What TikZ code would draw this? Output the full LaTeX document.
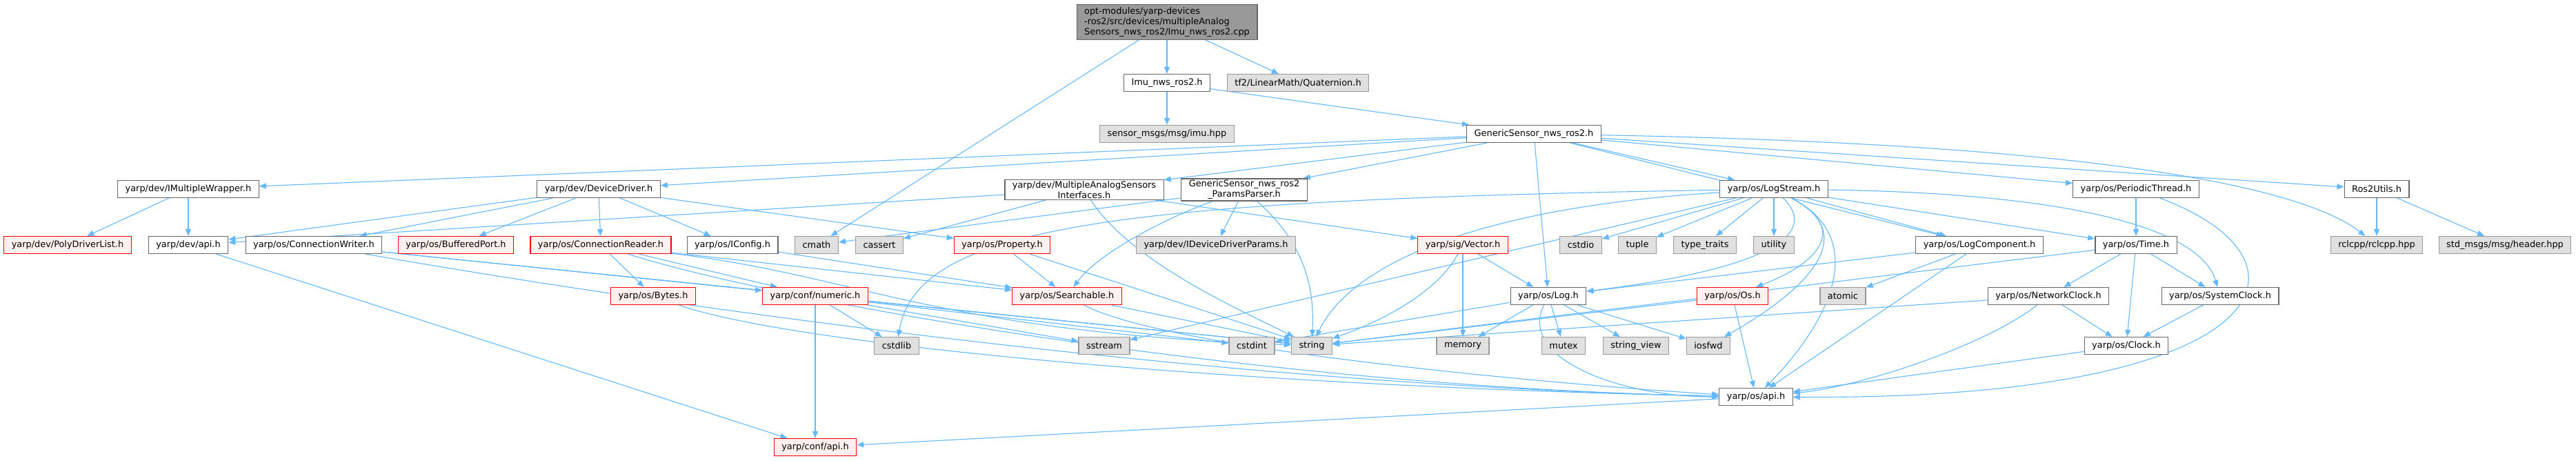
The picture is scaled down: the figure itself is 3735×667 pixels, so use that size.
\documentclass[tikz,border=0pt]{standalone}
\usepackage{fontspec}
\setmainfont{DejaVu Sans}
\usetikzlibrary{arrows.meta}
\pgfdeclarelayer{bg}
\pgfsetlayers{bg,main}
\definecolor{edgeblue}{HTML}{63B8FF}
\definecolor{sysfill}{HTML}{E0E0E0}
\definecolor{redfill}{HTML}{FFF0F0}
\definecolor{rootfill}{HTML}{999999}
\definecolor{boxline}{HTML}{666666}
\definecolor{sysline}{HTML}{999999}
\begin{document}
\begin{tikzpicture}[x=1pt,y=-1pt,
  filebox/.style={draw=boxline, fill=white, line width=1.2pt, rectangle, minimum height=25pt, inner xsep=11pt, inner ysep=2pt, font=\fontsize{12.9}{15}\selectfont, align=center},
  sysbox/.style={filebox, draw=sysline, fill=sysfill},
  redbox/.style={filebox, draw=red, fill=redfill},
  rootbox/.style={filebox, fill=rootfill, align=left, inner ysep=4pt},
  dep/.style={draw=edgeblue, line width=1.1pt, -{Triangle[length=10pt,width=8pt]}}]
\useasboundingbox (0,0) rectangle (3735,667);
\node[rootbox] (root) at (1692,32) {opt-modules/yarp-devices\\-ros2/src/devices/multipleAnalog\\Sensors\_nws\_ros2/Imu\_nws\_ros2.cpp};
\node[filebox] (imu) at (1692,120) {Imu\_nws\_ros2.h};
\node[sysbox] (tfq) at (1882,120) {tf2/LinearMath/Quaternion.h};
\node[sysbox] (smsg) at (1692,194) {sensor\_msgs/msg/imu.hpp};
\node[filebox] (gsn) at (2224,194) {GenericSensor\_nws\_ros2.h};
\node[filebox] (imw) at (273,274) {yarp/dev/IMultipleWrapper.h};
\node[filebox] (ddrv) at (868,274) {yarp/dev/DeviceDriver.h};
\node[filebox] (masi) at (1572,275) {yarp/dev/MultipleAnalogSensors\\Interfaces.h};
\node[filebox] (gpp) at (1804,275) {GenericSensor\_nws\_ros2\\\_ParamsParser.h};
\node[filebox] (lstr) at (2572,274) {yarp/os/LogStream.h};
\node[filebox] (pthr) at (3097,274) {yarp/os/PeriodicThread.h};
\node[filebox] (rutl) at (3446,274) {Ros2Utils.h};
\node[redbox] (pdl) at (98,355) {yarp/dev/PolyDriverList.h};
\node[filebox] (dapi) at (273,355) {yarp/dev/api.h};
\node[filebox] (cwr) at (455,355) {yarp/os/ConnectionWriter.h};
\node[redbox] (bport) at (661,355) {yarp/os/BufferedPort.h};
\node[redbox] (crd) at (871,355) {yarp/os/ConnectionReader.h};
\node[filebox] (icfg) at (1062,355) {yarp/os/IConfig.h};
\node[sysbox] (cmath) at (1184,355) {cmath};
\node[sysbox] (cassert) at (1275,355) {cassert};
\node[redbox] (prop) at (1453,355) {yarp/os/Property.h};
\node[sysbox] (iddp) at (1763,355) {yarp/dev/IDeviceDriverParams.h};
\node[redbox] (svec) at (2121,355) {yarp/sig/Vector.h};
\node[sysbox] (cstdio) at (2292,355) {cstdio};
\node[sysbox] (tuple) at (2374,355) {tuple};
\node[sysbox] (ttraits) at (2472,355) {type\_traits};
\node[sysbox] (utility) at (2572,355) {utility};
\node[filebox] (lcmp) at (2870,355) {yarp/os/LogComponent.h};
\node[filebox] (time) at (3097,355) {yarp/os/Time.h};
\node[sysbox] (rclcpp) at (3446,355) {rclcpp/rclcpp.hpp};
\node[sysbox] (hdr) at (3632,355) {std\_msgs/msg/header.hpp};
\node[redbox] (bytes) at (947,429) {yarp/os/Bytes.h};
\node[redbox] (numeric) at (1182,429) {yarp/conf/numeric.h};
\node[redbox] (srch) at (1547,429) {yarp/os/Searchable.h};
\node[filebox] (log) at (2245,429) {yarp/os/Log.h};
\node[redbox] (os) at (2512,429) {yarp/os/Os.h};
\node[sysbox] (atomic) at (2672,429) {atomic};
\node[filebox] (nclk) at (2970,429) {yarp/os/NetworkClock.h};
\node[filebox] (sclk) at (3219,429) {yarp/os/SystemClock.h};
\node[sysbox] (cstdlib) at (1300,501) {cstdlib};
\node[sysbox] (sstream) at (1601,501) {sstream};
\node[sysbox] (cstdint) at (1815,501) {cstdint};
\node[sysbox] (string) at (1902,501) {string};
\node[sysbox] (memory) at (2121,501) {memory};
\node[sysbox] (mutex) at (2267,501) {mutex};
\node[sysbox] (strview) at (2372,501) {string\_view};
\node[sysbox] (iosfwd) at (2477,501) {iosfwd};
\node[filebox] (clock) at (3083,501) {yarp/os/Clock.h};
\node[filebox] (osapi) at (2546,575) {yarp/os/api.h};
\node[redbox] (confapi) at (1182,648) {yarp/conf/api.h};
\begin{pgfonlayer}{bg}
\draw[dep] (root) -- (imu);
\draw[dep] (root) -- (tfq);
\draw[dep] (root) -- (cmath);
\draw[dep] (imu) -- (smsg);
\draw[dep] (imu) -- (gsn);
\draw[dep] (gsn) -- (imw);
\draw[dep] (gsn) -- (ddrv);
\draw[dep] (gsn) -- (masi);
\draw[dep] (gsn) -- (gpp);
\draw[dep] (gsn) -- (lstr);
\draw[dep] (gsn) -- (log);
\draw[dep] (gsn) -- (lcmp);
\draw[dep] (gsn) -- (pthr);
\draw[dep] (gsn) -- (rutl);
\draw[dep] (gsn) .. controls (3100,210) and (3350,280) .. (rclcpp);
\draw[dep] (imw) -- (pdl);
\draw[dep] (imw) -- (dapi);
\draw[dep] (ddrv) -- (dapi);
\draw[dep] (ddrv) -- (cwr);
\draw[dep] (ddrv) -- (bport);
\draw[dep] (ddrv) -- (crd);
\draw[dep] (ddrv) -- (icfg);
\draw[dep] (ddrv) -- (prop);
\draw[dep] (masi) -- (dapi);
\draw[dep] (masi) -- (cassert);
\draw[dep] (masi) -- (svec);
\draw[dep] (masi) .. controls (1640,380) and (1800,450) .. (string);
\draw[dep] (gpp) -- (cmath);
\draw[dep] (gpp) .. controls (1680,320) and (1590,370) .. (srch);
\draw[dep] (gpp) -- (iddp);
\draw[dep] (gpp) .. controls (1900,360) and (1905,430) .. (string);
\draw[dep] (lstr) .. controls (1600,290) and (1330,330) .. (cstdlib);
\draw[dep] (lstr) .. controls (2150,300) and (1960,380) .. (string);
\draw[dep] (lstr) -- (sstream);
\draw[dep] (lstr) -- (cstdio);
\draw[dep] (lstr) -- (tuple);
\draw[dep] (lstr) -- (ttraits);
\draw[dep] (lstr) -- (utility);
\draw[dep] (lstr) .. controls (2640,340) and (2560,390) .. (log);
\draw[dep] (lstr) .. controls (2680,330) and (2640,380) .. (os);
\draw[dep] (lstr) .. controls (2700,340) and (2620,420) .. (iosfwd);
\draw[dep] (lstr) .. controls (2720,350) and (2640,480) .. (osapi);
\draw[dep] (lstr) -- (lcmp);
\draw[dep] (lstr) -- (time);
\draw[dep] (lstr) .. controls (3000,280) and (3190,330) .. (sclk);
\draw[dep] (pthr) -- (time);
\draw[dep] (pthr) .. controls (3380,380) and (3300,580) .. (osapi);
\draw[dep] (rutl) -- (rclcpp);
\draw[dep] (rutl) -- (hdr);
\draw[dep] (cwr) -- (numeric);
\draw[dep] (cwr) .. controls (1000,450) and (1800,560) .. (osapi);
\draw[dep] (cwr) -- (string);
\draw[dep] (crd) -- (bytes);
\draw[dep] (crd) -- (numeric);
\draw[dep] (crd) -- (srch);
\draw[dep] (crd) .. controls (1250,400) and (1350,480) .. (string);
\draw[dep] (crd) .. controls (1100,430) and (1800,560) .. (osapi);
\draw[dep] (icfg) -- (srch);
\draw[dep] (prop) -- (srch);
\draw[dep] (prop) -- (string);
\draw[dep] (bytes) .. controls (1150,500) and (1800,560) .. (osapi);
\draw[dep] (numeric) -- (confapi);
\draw[dep] (numeric) -- (cstdlib);
\draw[dep] (numeric) -- (sstream);
\draw[dep] (numeric) -- (cstdint);
\draw[dep] (numeric) -- (string);
\draw[dep] (srch) -- (string);
\draw[dep] (srch) .. controls (1700,510) and (2300,560) .. (osapi);
\draw[dep] (dapi) -- (confapi);
\draw[dep] (svec) -- (log);
\draw[dep] (svec) -- (memory);
\draw[dep] (svec) .. controls (2080,430) and (1990,470) .. (string);
\draw[dep] (log) -- (cstdint);
\draw[dep] (log) -- (memory);
\draw[dep] (log) -- (mutex);
\draw[dep] (log) -- (strview);
\draw[dep] (log) -- (iosfwd);
\draw[dep] (log) .. controls (2200,520) and (2350,575) .. (osapi);
\draw[dep] (os) -- (string);
\draw[dep] (os) -- (osapi);
\draw[dep] (lcmp) -- (log);
\draw[dep] (lcmp) -- (atomic);
\draw[dep] (lcmp) -- (osapi);
\draw[dep] (time) -- (nclk);
\draw[dep] (time) -- (clock);
\draw[dep] (time) -- (sclk);
\draw[dep] (time) -- (string);
\draw[dep] (nclk) -- (string);
\draw[dep] (nclk) .. controls (2880,500) and (2700,560) .. (osapi);
\draw[dep] (nclk) -- (clock);
\draw[dep] (sclk) -- (clock);
\draw[dep] (clock) -- (osapi);
\draw[dep] (osapi) -- (confapi);
\end{pgfonlayer}
\end{tikzpicture}
\end{document}
